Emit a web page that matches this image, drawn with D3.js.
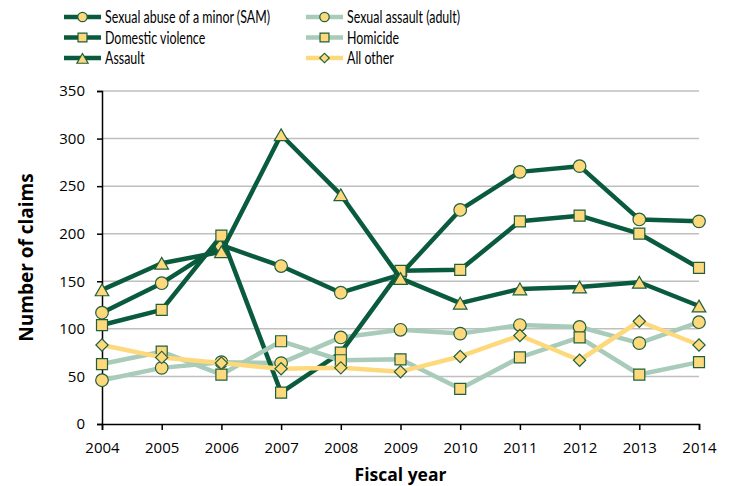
<!DOCTYPE html>
<html>
<head>
<meta charset="utf-8">
<script src="https://cdn.jsdelivr.net/npm/d3@7"></script>
<style>
  body { margin: 0; background: #fff; }
  svg { font-family: "Open Sans", sans-serif; }
</style>
</head>
<body>
<div id="chart"></div>
<script>
// fiscal years on the x axis
var years = [2004, 2005, 2006, 2007, 2008, 2009, 2010, 2011, 2012, 2013, 2014];
var yTicks = [0, 50, 100, 150, 200, 250, 300, 350];

// claims per category
var sam = [117, 148, 188, 166, 138, 157, 225, 265, 271, 215, 213];
var sexualAssault = [46, 59, 65, 64, 91, 99, 95, 104, 102, 85, 107];
var domestic = [104, 120, 198, 33, 75, 161, 162, 213, 219, 200, 164];
var homicide = [63, 76, 52, 87, 67, 68, 37, 70, 91, 52, 65];
var assault = [141, 169, 181, 304, 241, 153, 127, 142, 144, 149, 124];
var allOther = [83, 70, 64, 58, 59, 55, 71, 93, 67, 108, 83];

var dark = "#0a5b3e", light = "#a9cbb9", yellow = "#fdd97c";

var series = [
  { name: "Sexual abuse of a minor (SAM)", values: sam, color: dark, shape: "circle" },
  { name: "Sexual assault (adult)", values: sexualAssault, color: light, shape: "circle" },
  { name: "Domestic violence", values: domestic, color: dark, shape: "square" },
  { name: "Homicide", values: homicide, color: light, shape: "square" },
  { name: "Assault", values: assault, color: dark, shape: "triangle" },
  { name: "All other", values: allOther, color: yellow, shape: "diamond" }
];

var width = 732, height = 486;
var margin = { top: 91, right: 33, bottom: 62, left: 102 };

var svg = d3.select("#chart").append("svg")
  .attr("width", width)
  .attr("height", height);

var x = d3.scaleLinear()
  .domain([2004, 2014])
  .range([margin.left, width - margin.right]);

var y = d3.scaleLinear()
  .domain([0, 350])
  .range([height - margin.bottom, margin.top]);

// gridlines
svg.append("g")
  .selectAll("line")
  .data(yTicks.filter(function(d) { return d > 0; }))
  .enter().append("line")
  .attr("x1", x(2004))
  .attr("x2", x(2014))
  .attr("y1", function(d) { return y(d); })
  .attr("y2", function(d) { return y(d); })
  .attr("stroke", "#bfbfbf")
  .attr("stroke-width", 1.5);

// axes
var yAxis = svg.append("g")
  .attr("transform", "translate(" + margin.left + ",0)")
  .call(d3.axisLeft(y).tickValues(yTicks).tickSize(5).tickPadding(12));
var xAxis = svg.append("g")
  .attr("transform", "translate(0," + y(0) + ")")
  .call(d3.axisBottom(x).tickValues(years).tickFormat(d3.format("d")).tickSize(6).tickPadding(12));

[xAxis, yAxis].forEach(function(a) {
  a.select(".domain").attr("stroke", "#000").attr("stroke-width", 1.5);
  a.selectAll(".tick line").attr("stroke", "#000").attr("stroke-width", 1.5);
  a.selectAll("text").attr("font-size", 15).attr("fill", "#000")
    .style("font-family", "'Open Sans', sans-serif");
});

svg.append("text")
  .attr("x", (x(2004) + x(2014)) / 2)
  .attr("y", 481)
  .attr("text-anchor", "middle")
  .attr("font-size", 17.5)
  .attr("font-weight", "bold")
  .text("Fiscal year");

svg.append("text")
  .attr("transform", "translate(33," + y(175) + ") rotate(-90)")
  .attr("text-anchor", "middle")
  .attr("font-size", 19)
  .attr("font-weight", "bold")
  .text("Number of claims");

var symbols = {
  circle: d3.symbol().type(d3.symbolCircle).size(125),
  square: d3.symbol().type(d3.symbolSquare).size(121),
  triangle: d3.symbol().type(d3.symbolTriangle).size(80),
  diamond: d3.symbol().type(d3.symbolSquare).size(75)
};
var smallSymbols = {
  circle: d3.symbol().type(d3.symbolCircle).size(70),
  square: d3.symbol().type(d3.symbolSquare).size(80),
  triangle: d3.symbol().type(d3.symbolTriangle).size(55),
  diamond: d3.symbol().type(d3.symbolSquare).size(45)
};

function drawMarker(g, shape, cx, cy, set) {
  var sym = (set || symbols)[shape];
  var shift = shape === "triangle" ? " translate(0,2)" : "";
  g.append("path")
    .attr("d", sym())
    .attr("transform", "translate(" + cx + "," + cy + ")" + shift + (shape === "diamond" ? " rotate(45)" : ""))
    .attr("fill", yellow)
    .attr("stroke", "#1f5f3c")
    .attr("stroke-width", 1.2);
}

var line = d3.line()
  .x(function(d, i) { return x(years[i]); })
  .y(function(d) { return y(d); });

series.forEach(function(s) {
  var g = svg.append("g");
  g.append("path")
    .datum(s.values)
    .attr("d", line)
    .attr("fill", "none")
    .attr("stroke", s.color)
    .attr("stroke-width", 4.5)
    .attr("stroke-linejoin", "round");
  s.values.forEach(function(v, i) {
    drawMarker(g, s.shape, x(years[i]), y(v));
  });
});

// legend
var legend = svg.append("g");
var labels = [];
series.forEach(function(s, i) {
  var col = i % 2, row = Math.floor(i / 2);
  var lx = col === 0 ? 64 : 306;
  var ly = 17 + row * 20.5;
  var g = legend.append("g");
  g.append("line")
    .attr("x1", lx).attr("x2", lx + 37)
    .attr("y1", ly).attr("y2", ly)
    .attr("stroke", s.color)
    .attr("stroke-width", 4.5);
  drawMarker(g, s.shape, lx + 18.5, ly, smallSymbols);
  labels.push(g.append("text")
    .attr("x", lx + 41)
    .attr("y", ly + 6)
    .attr("font-size", 17.5)
    .style("font-family", "Lato, sans-serif")
    .text(s.name));
});
// the original legend font is narrow, so squeeze the labels a little
var k = 165 / labels[0].node().getComputedTextLength();
labels.forEach(function(t) {
  t.attr("textLength", t.node().getComputedTextLength() * k)
    .attr("lengthAdjust", "spacingAndGlyphs");
});
</script>
</body>
</html>
